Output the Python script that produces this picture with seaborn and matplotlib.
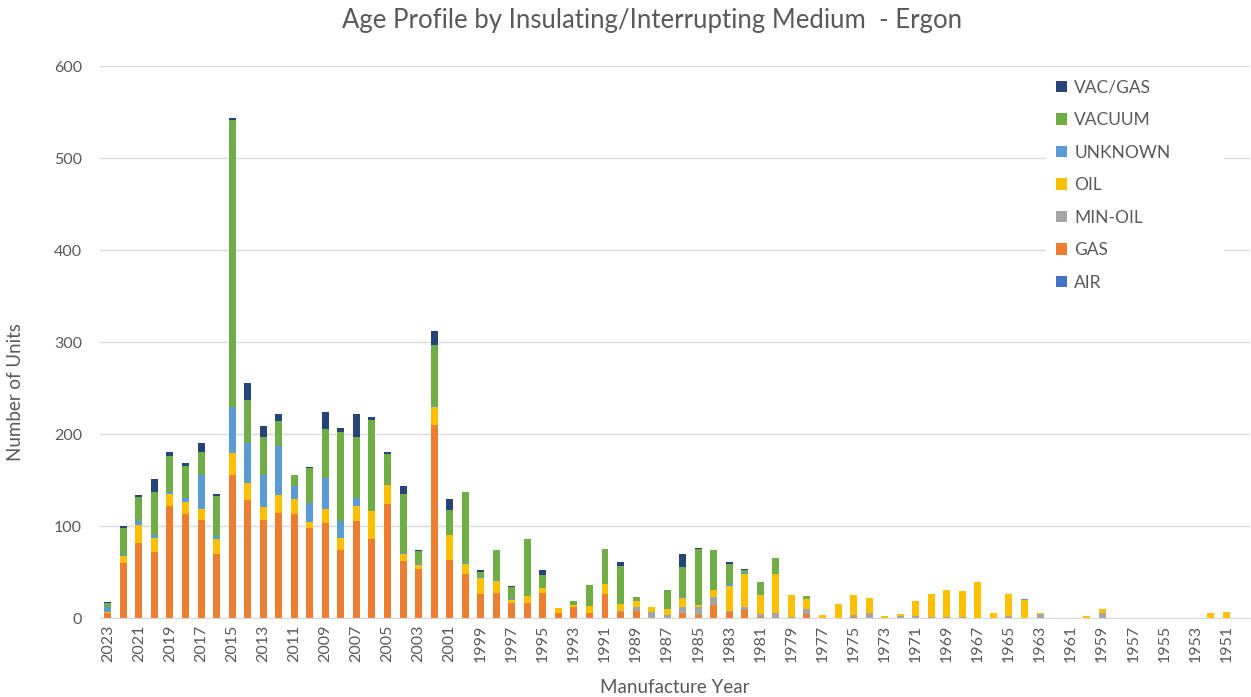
import pandas as pd
import matplotlib
matplotlib.use("Agg")
import matplotlib.pyplot as plt
import seaborn as sns

# manufacture years, newest first (2023 -> 1950)
years = [str(y) for y in range(2023, 1949, -1)]

# units per medium, one row per block of 10 years
air = [0] * 74

gas = [5, 60, 82, 72, 122, 113, 107, 70, 155, 128,
       107, 114, 113, 98, 103, 74, 105, 86, 124, 62,
       53, 210, 63, 48, 26, 27, 16, 16, 27, 5,
       12, 6, 26, 7, 8, 0, 0, 6, 3, 14,
       7, 9, 1, 0, 0, 4, 0, 0, 1, 0,
       0, 0, 0, 0, 0, 0, 0, 0, 0, 0,
       0, 0, 0, 0, 0, 0, 0, 0, 0, 0,
       0, 0, 0, 0]

min_oil = [0, 0, 0, 0, 0, 0, 0, 0, 0, 0,
           0, 0, 0, 0, 0, 0, 0, 0, 0, 0,
           0, 0, 0, 0, 0, 0, 0, 0, 0, 1,
           0, 0, 0, 1, 4, 7, 3, 6, 9, 9,
           1, 3, 3, 5, 1, 6, 0, 0, 2, 5,
           0, 2, 2, 1, 1, 1, 0, 0, 2, 0,
           4, 0, 0, 0, 6, 0, 0, 0, 0, 0,
           0, 0, 0, 0]

oil = [2, 7, 19, 15, 13, 13, 11, 16, 24, 19,
       14, 20, 16, 6, 15, 13, 17, 30, 21, 8,
       5, 19, 27, 11, 17, 13, 4, 8, 6, 5,
       2, 7, 11, 7, 7, 5, 7, 10, 2, 7,
       27, 36, 21, 43, 24, 11, 3, 15, 22, 17,
       2, 2, 16, 25, 29, 28, 39, 6, 24, 20,
       1, 0, 0, 2, 4, 0, 0, 0, 0, 0,
       0, 5, 7, 0]

unknown = [5, 1, 5, 3, 2, 5, 38, 3, 50, 43,
           34, 53, 15, 21, 34, 19, 9, 0, 0, 1,
           1, 2, 0, 1, 2, 1, 1, 0, 0, 0,
           0, 0, 0, 0, 0, 0, 0, 1, 0, 0,
           2, 1, 0, 0, 0, 0, 0, 0, 0, 0,
           0, 0, 0, 0, 0, 0, 0, 0, 0, 1,
           0, 0, 0, 0, 0, 0, 0, 0, 0, 0,
           0, 0, 0, 0]

vacuum = [4, 30, 26, 47, 39, 34, 24, 44, 312, 47,
          42, 27, 12, 38, 54, 96, 66, 99, 33, 64,
          14, 66, 27, 77, 5, 33, 13, 62, 14, 0,
          5, 23, 38, 42, 4, 0, 20, 33, 61, 44,
          22, 3, 14, 17, 0, 3, 0, 0, 0, 0,
          0, 0, 0, 0, 0, 0, 0, 0, 0, 0,
          0, 0, 0, 0, 0, 0, 0, 0, 0, 0,
          0, 0, 0, 0]

vac_gas = [1, 2, 2, 14, 5, 3, 10, 2, 3, 18,
           12, 8, 0, 1, 18, 5, 25, 3, 2, 8,
           1, 15, 12, 0, 2, 0, 1, 0, 5, 0,
           0, 0, 0, 4, 0, 0, 0, 14, 1, 0,
           2, 1, 0, 0, 0, 0, 0, 0, 0, 0,
           0, 0, 0, 0, 0, 0, 0, 0, 0, 0,
           0, 0, 0, 0, 0, 0, 0, 0, 0, 0,
           0, 0, 0, 0]

media = ['AIR', 'GAS', 'MIN-OIL', 'OIL', 'UNKNOWN', 'VACUUM', 'VAC/GAS']
colors = ['#4472C4', '#ED7D31', '#A5A5A5', '#FFC000', '#5B9BD5', '#70AD47', '#264478']

df = pd.DataFrame({'AIR': air, 'GAS': gas, 'MIN-OIL': min_oil, 'OIL': oil,
                   'UNKNOWN': unknown, 'VACUUM': vacuum, 'VAC/GAS': vac_gas},
                  index=years)
cum = df[media].cumsum(axis=1)

sns.set_style("white")
plt.rcParams['font.family'] = ['Lato', 'DejaVu Sans']

fig = plt.figure(figsize=(12.51, 6.97), dpi=100)
ax = fig.add_axes([0.08, 0.1133, 0.919, 0.792])

# draw cumulative totals from the top layer down so each lower layer overlays
for name, col in zip(media[::-1], colors[::-1]):
    sns.barplot(x=years, y=cum[name].values, order=years, color=col,
                saturation=1, width=0.45, linewidth=0, errorbar=None,
                label=name, ax=ax)

ax.set_ylim(0, 600)
ax.set_xlim(-0.5, len(years) - 0.5)
ax.set_yticks(range(0, 601, 100))
ax.yaxis.grid(True, color='#D9D9D9', linewidth=1)
ax.set_axisbelow(True)
ax.set_xticks(range(0, len(years), 2))
ax.set_xticklabels(years[::2], rotation=90)
ax.tick_params(axis='both', length=0, labelsize=11.5, colors='#595959')
ax.tick_params(axis='y', pad=13)
ax.tick_params(axis='x', pad=5)
for s in ['top', 'right', 'left']:
    ax.spines[s].set_visible(False)
ax.spines['bottom'].set_color('#D9D9D9')

ax.set_xlabel('Manufacture Year', fontsize=13.5, color='#595959', labelpad=12)
ax.set_ylabel('Number of Units', fontsize=13.5, color='#595959')
ax.yaxis.set_label_coords(-0.066, 0.41)
fig.suptitle('Age Profile by Insulating/Interrupting Medium  - Ergon',
             x=0.521, y=0.988, fontsize=18.5, color='#595959')

# legend box widened so it masks the gridlines like the original
leg = ax.legend(loc='upper left', bbox_to_anchor=(0.815, 1.01, 0.17, 0),
                mode='expand', frameon=True,
                facecolor='white', edgecolor='none', framealpha=1,
                fontsize=12.5, labelspacing=0.95, handlelength=0.65,
                handleheight=0.65, handletextpad=0.4, borderpad=0.6)
for t in leg.get_texts():
    t.set_color('#595959')

fig.savefig('out.png', dpi=100)
